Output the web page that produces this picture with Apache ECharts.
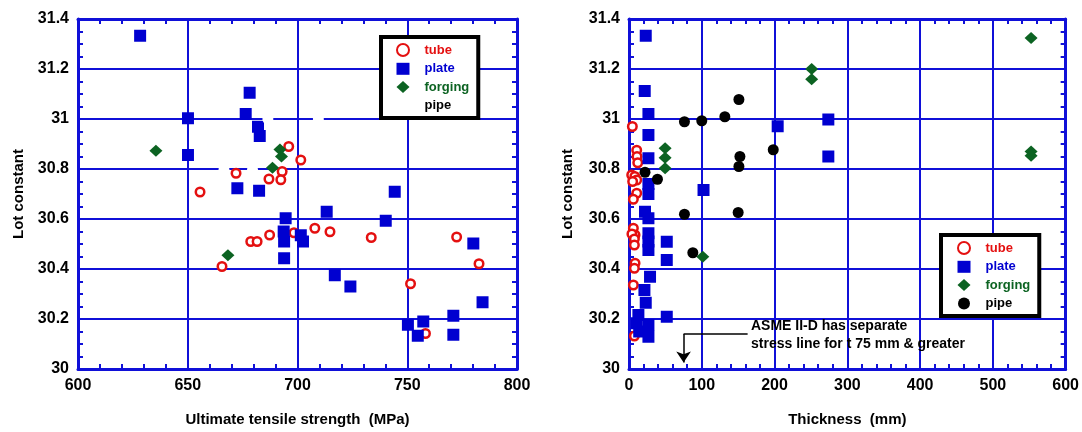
<!DOCTYPE html>
<html><head><meta charset="utf-8">
<script src="https://cdn.jsdelivr.net/npm/echarts@6/dist/echarts.min.js"></script>
<style>html,body{margin:0;padding:0;background:#fff;}#c{width:1082px;height:432px;}</style>
</head><body><div id="c"></div>
<script>
// ---------- data: left plot (Ultimate tensile strength, MPa) ----------
const tubeUTS = [[696,30.89],[701.5,30.836],[693,30.79],[687,30.76],[692.4,30.757],[672,30.783],[655.6,30.708],
  [678.7,30.51],[681.6,30.51],[687.3,30.536],[665.6,30.41],[698.4,30.545],[707.9,30.563],[714.8,30.549],
  [733.6,30.526],[772.5,30.528],[782.7,30.421],[751.5,30.341],[758.3,30.142]];
const plateUTS = [[628.3,31.333],[650.1,31.003],[650.1,30.856],[678.2,31.105],[676.4,31.02],[682,30.969],[682.8,30.932],
  [672.6,30.723],[682.5,30.713],[694.6,30.603],[693.7,30.55],[693.9,30.51],[693.9,30.443],[701.5,30.535],[702.5,30.51],
  [713.3,30.629],[744.3,30.709],[740.2,30.593],[717,30.375],[724.1,30.33],[780.1,30.502],[784.3,30.267],[771,30.213],
  [757.3,30.19],[750.3,30.177],[754.8,30.133],[771,30.137]];
const forgingUTS = [[635.5,30.873],[692,30.878],[692.7,30.85],[668.3,30.455],[688.6,30.805]];
const pipeUTS = [[666.5,30.797],[679.5,30.797],[686.5,31.0],[709.5,31.0]];

// ---------- data: right plot (Thickness, mm) ----------
const tubeThk = [[4.6,30.97],[10.6,30.875],[11,30.85],[12,30.825],[3.7,30.776],[8,30.77],[10.6,30.756],[5,30.75],
  [10.6,30.703],[6,30.679],[6,30.563],[8.3,30.536],[4,30.54],[7.4,30.52],[7.4,30.496],[8.3,30.423],[7.4,30.403],
  [6,30.336],[7.4,30.132]];
const plateThk = [[23,31.333],[21.6,31.112],[26.7,31.02],[26.7,30.936],[26.7,30.843],[26.7,30.74],[26.7,30.70],
  [102.4,30.716],[22,30.629],[26.7,30.603],[26.7,30.543],[26.7,30.51],[26.7,30.476],[51.9,30.509],[51.9,30.436],
  [28.9,30.369],[21.2,30.316],[23,30.265],[51.9,30.209],[12.9,30.216],[26.7,30.176],[10.6,30.183],[14,30.15],
  [26.7,30.129],[204.3,30.971],[273.9,30.998],[273.9,30.85]];
const forgingThk = [[49.6,30.883],[49.6,30.845],[49.6,30.803],[101.4,30.449],[251,31.2],[251,31.159],
  [552.5,31.324],[552.5,30.87],[552.5,30.853]];
const pipeThk = [[151,31.078],[76.2,30.989],[100,30.993],[131.7,31.009],[152.4,30.85],[151,30.81],[22,30.787],
  [39.1,30.759],[76.2,30.619],[150,30.626],[87.7,30.465],[198.2,30.877]];

const yRange = [30, 31.4, 0.2];
const utsRange = [600, 800, 50];
const thkRange = [0, 600, 100];
const noteLine = [[163,30.14],[75,30.14]];
const noteArrow = [[75,30.14],[75,30.026]];

const BLUE = '#1010d8', RED = '#e41010', PBLUE = '#0000d0', GREEN = '#0c6322', FONT = '"Liberation Sans", Arial, sans-serif';

function axis(type, pos, grid, r, primary, minorSplit, name, gap) {
  return {
    type: 'value', gridIndex: grid, position: pos, min: r[0], max: r[1], interval: r[2],
    name: primary ? name : '', nameLocation: 'middle', nameGap: gap,
    nameTextStyle: {fontFamily: FONT, fontWeight: 'bold', fontSize: 15, color: '#000'},
    axisLine: {show: true, onZero: false, lineStyle: {color: BLUE, width: 3}},
    axisTick: {show: true, inside: true, length: 5, lineStyle: {color: BLUE, width: 2}},
    minorTick: {show: true, splitNumber: minorSplit, length: 5, lineStyle: {color: BLUE, width: 2}},
    axisLabel: {show: primary, fontFamily: FONT, fontWeight: 'bold', fontSize: 16, color: '#000', margin: 9},
    splitLine: {show: primary, lineStyle: {color: BLUE, width: 2}}
  };
}
function sc(name, data, xi, yi, sym, size, style, z) {
  return {type: 'scatter', name, data, xAxisIndex: xi, yAxisIndex: yi, symbol: sym, symbolSize: size,
    itemStyle: Object.assign({opacity: 1}, style), z: z || 2, animation: false, silent: true};
}
const tubeStyle = {color: '#fff', borderColor: RED, borderWidth: 2.5};
const plateStyle = {color: PBLUE};
const forgStyle = {color: GREEN};
const pipeStyle = {color: '#000'};

function legendFor(suffix, left, top, padLeft) {
  return {
    left, top, orient: 'vertical', itemWidth: 13, itemHeight: 12, itemGap: 5.3,
    padding: [6, 9, 6, padLeft], borderColor: '#000', borderWidth: 4, backgroundColor: '#fff',
    selectedMode: false, formatter: n => n.replace(suffix, ''),
    textStyle: {fontFamily: FONT, fontWeight: 'bold', fontSize: 13, padding: [0, 0, 0, 10]},
    data: [
      {name: 'tube' + suffix, textStyle: {color: RED}},
      {name: 'plate' + suffix, textStyle: {color: PBLUE}},
      {name: 'forging' + suffix, textStyle: {color: GREEN}},
      {name: 'pipe' + suffix, textStyle: {color: '#000'}}
    ]
  };
}

const option = {
  animation: false,
  grid: [
    {left: 78, top: 19, width: 439, height: 350},
    {left: 629, top: 19, width: 438, height: 350}
  ],
  xAxis: [
    axis('x', 'bottom', 0, utsRange, true, 5, 'Ultimate tensile strength  (MPa)', 43),
    axis('x', 'top', 0, utsRange, false, 5, '', 0),
    axis('x', 'bottom', 1, thkRange, true, 5, 'Thickness  (mm)', 43),
    axis('x', 'top', 1, thkRange, false, 5, '', 0)
  ],
  yAxis: [
    axis('y', 'left', 0, yRange, true, 4, 'Lot constant', 52),
    axis('y', 'right', 0, yRange, false, 4, '', 0),
    axis('y', 'left', 1, yRange, true, 4, 'Lot constant', 54),
    axis('y', 'right', 1, yRange, false, 4, '', 0)
  ],
  legend: [legendFor('_L', 381, 37, 15), legendFor('_R', 941, 235, 16)],
  series: [
    sc('tube_L', tubeUTS, 0, 0, 'circle', 8.5, tubeStyle),
    sc('plate_L', plateUTS, 0, 0, 'rect', 12, plateStyle),
    sc('forging_L', forgingUTS, 0, 0, 'diamond', [13, 12], forgStyle),
    sc('pipe_L', pipeUTS, 0, 0, 'circle', 11, {color: '#fff'}, 3),
    sc('tube_R', tubeThk, 2, 2, 'circle', 8.5, tubeStyle),
    sc('plate_R', plateThk, 2, 2, 'rect', 12, plateStyle),
    sc('forging_R', forgingThk, 2, 2, 'diamond', [13, 12], forgStyle),
    sc('pipe_R', pipeThk, 2, 2, 'circle', 11, pipeStyle),
    {type: 'line', xAxisIndex: 2, yAxisIndex: 2, data: noteLine, symbol: 'none', silent: true,
     lineStyle: {color: '#000', width: 1.5}, z: 4,
     markLine: {silent: true, symbol: ['none', 'arrow'], symbolSize: 11, label: {show: false},
       lineStyle: {color: '#000', width: 1.5, type: 'solid'}, emphasis: {disabled: true},
       data: [[{coord: noteArrow[0]}, {coord: noteArrow[1]}]]}}
  ],
  graphic: [{
    type: 'text', left: 751, top: 317, z: 10,
    style: {text: 'ASME II-D has separate\nstress line for t 75 mm & greater', fill: '#000',
      font: 'bold 14px ' + FONT, lineHeight: 18}
  }]
};
const chart = echarts.init(document.getElementById('c'), null, {renderer: 'canvas'});
chart.setOption(option);
</script></body></html>
